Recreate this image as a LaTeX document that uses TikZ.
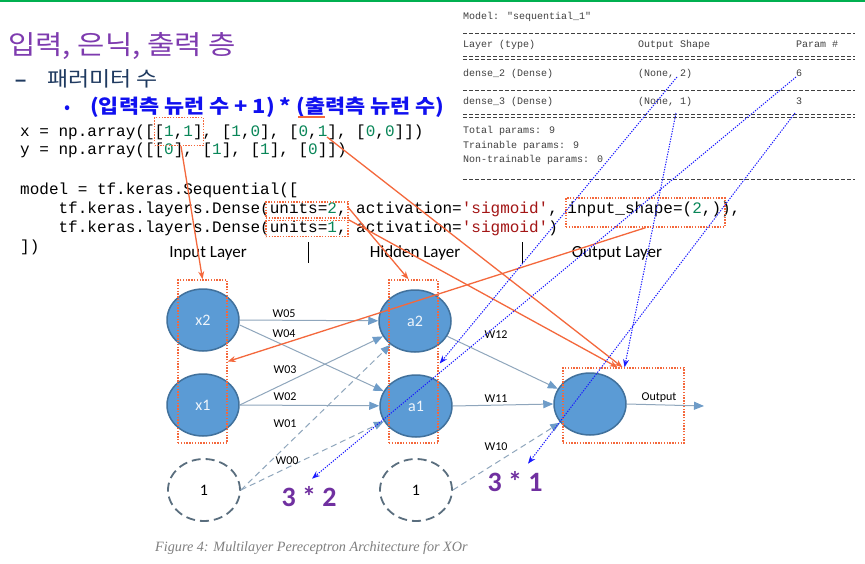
\documentclass[tikz,border=0pt]{standalone}
\usepackage{fontspec}
\usetikzlibrary{arrows.meta,calc,shapes.geometric}
\newfontfamily\krfont{Noto Sans CJK KR}
\newfontfamily\krwide{Noto Sans CJK KR}[FakeStretch=1.12]
\newfontfamily\codefont{Liberation Mono}[Ligatures=TeXOff]
\newfontfamily\calfont{Carlito}
\newfontfamily\capfont{Liberation Serif}
\newfontfamily\dashfont{Liberation Sans}
\definecolor{titlepurple}{HTML}{7E3BAF}
\definecolor{subnavy}{HTML}{1F3A60}
\definecolor{bulletblue}{HTML}{1010F0}
\definecolor{orangeR}{HTML}{F4683C}
\definecolor{dotblue}{HTML}{1A1AFF}
\definecolor{nodefill}{HTML}{5B9BD5}
\definecolor{nodedraw}{HTML}{41719C}
\definecolor{edgegray}{HTML}{8FA6BC}
\definecolor{arrowblue}{HTML}{6E9CC8}
\definecolor{biasdraw}{HTML}{5A6E7E}
\definecolor{codenum}{HTML}{098658}
\definecolor{codestr}{HTML}{A31515}
\definecolor{numpurple}{HTML}{7030A0}
\definecolor{capgray}{HTML}{7F7F7F}
\definecolor{sumgray}{HTML}{404040}
\definecolor{topgreen}{HTML}{00B050}
\newcommand{\cnum}[1]{\textcolor{codenum}{#1}}
\newcommand{\cstr}[1]{\textcolor{codestr}{#1}}
\tikzset{
  codeline/.style={anchor=base west,inner sep=0pt,font=\codefont\fontsize{16}{19}\selectfont},
  sumtext/.style={anchor=base west,inner sep=0pt,text=sumgray,font=\codefont\fontsize{10}{12}\selectfont},
  sumrule/.style={sumgray,line width=0.6pt,dash pattern=on 4pt off 2pt},
  neuron/.style={ellipse,draw=nodedraw,fill=nodefill,line width=1.5pt,minimum width=72pt,minimum height=62pt,inner sep=0pt,text=white!90!nodefill,font=\calfont\fontsize{16}{18}\selectfont},
  biasnode/.style={ellipse,draw=biasdraw,line width=1.8pt,dash pattern=on 9pt off 5pt,minimum width=72pt,minimum height=62pt,inner sep=0pt,font=\calfont\fontsize{16}{18}\selectfont},
  obox/.style={draw=orangeR,line width=1.4pt,dash pattern=on 1.4pt off 1.4pt,inner sep=0pt},
  edge/.style={edgegray,line width=1pt,-{Triangle[length=10pt,width=8pt,color=arrowblue]}},
  dedge/.style={edge,dash pattern=on 6pt off 4pt},
  wlabel/.style={inner sep=0pt,font=\calfont\fontsize{12}{14}\selectfont},
  orarrow/.style={orangeR,line width=1.3pt,-{Stealth[length=8pt,width=6pt]}},
  bluearrow/.style={dotblue,line width=1pt,dash pattern=on 1.3pt off 1.3pt,-{Stealth[length=8pt,width=6pt]}},
  collabel/.style={inner sep=0pt,font=\calfont\fontsize{17}{20}\selectfont},
  bignum/.style={inner sep=2pt,text=numpurple,font=\calfont\bfseries\fontsize{28}{30}\selectfont}
}
\begin{document}
\begin{tikzpicture}[x=1pt,y=-1pt]
\useasboundingbox (0,0) rectangle (865,563);
\fill[white] (0,0) rectangle (865,563);
\draw[topgreen,line width=2pt] (0,1) -- (865,1);

% headings
\node[anchor=base west,inner sep=0pt,text=titlepurple] (title) at (8,54) {\krwide\fontsize{26.5}{30}\selectfont 입력, 은닉, 출력 층};
\node[anchor=base west,inner sep=0pt,text=subnavy] (dash) at (15,86) {\dashfont\bfseries\fontsize{20}{22}\selectfont –};
\node[anchor=base west,inner sep=0pt,text=subnavy] (sub) at (47,86) {\krwide\fontsize{20.5}{24}\selectfont 패러미터 수};
\node[anchor=base west,inner sep=0pt,text=bulletblue] (bul) at (64,113) {\krfont\fontsize{18}{20}\selectfont •};
\node[anchor=base west,inner sep=0pt,text=bulletblue] (formula) at (90,113) {\krwide\bfseries\fontsize{19.5}{24}\selectfont (입력측 뉴런 수 + 1) * (출력측 뉴런 수)};
\draw[orangeR,line width=1.6pt] (298,117) -- (325,117);

% code
\node[codeline] (cx) at (20,136) {x = np.array([[\cnum{1},\cnum{1}], [\cnum{1},\cnum{0}], [\cnum{0},\cnum{1}], [\cnum{0},\cnum{0}]])};
\node[codeline] (cy) at (20,154.5) {y = np.array([[\cnum{0}], [\cnum{1}], [\cnum{1}], [\cnum{0}]])};
\node[codeline] (cm) at (20,194) {model = tf.keras.Sequential([};
\node[codeline] (cl1) at (58.4,213) {tf.keras.layers.Dense(units=\cnum{2}, activation=\cstr{'sigmoid'}, input\_shape=(\cnum{2},)),};
\node[codeline] (cl2) at (58.4,232) {tf.keras.layers.Dense(units=\cnum{1}, activation=\cstr{'sigmoid'})};
\node[codeline] (ce) at (20,251) {])};

% model summary
\node[sumtext] (s0) at (463,19) {Model: "sequential\_1"};
\draw[sumrule] (463,33) -- (855,33);
\node[sumtext] (s1a) at (463,47) {Layer (type)};
\node[sumtext] (s1b) at (638,47) {Output Shape};
\node[sumtext] (s1c) at (796,47) {Param \#};
\draw[sumrule] (463,56) -- (855,56);
\draw[sumrule] (463,59) -- (855,59);
\node[sumtext] (s2a) at (463,76) {dense\_2 (Dense)};
\node[sumtext] (s2b) at (638,76) {(None, 2)};
\node[sumtext] (s2c) at (796,76) {6};
\draw[sumrule] (463,90) -- (855,90);
\node[sumtext] (s3a) at (463,104) {dense\_3 (Dense)};
\node[sumtext] (s3b) at (638,104) {(None, 1)};
\node[sumtext] (s3c) at (796,104) {3};
\draw[sumrule] (463,114) -- (855,114);
\draw[sumrule] (463,117) -- (855,117);
\node[sumtext] (s4) at (463,133) {Total params: 9};
\node[sumtext] (s5) at (463,148) {Trainable params: 9};
\node[sumtext] (s6) at (463,162) {Non-trainable params: 0};
\draw[sumrule] (463,179) -- (855,179);

% column labels
\node[collabel] (lin) at (208,253) {Input Layer};
\node[collabel] (lhid) at (415,253) {Hidden Layer};
\node[collabel] (lout) at (617,253) {Output Layer};
\draw[black,line width=1pt] (308,242) -- (308,263);
\draw[black,line width=1pt] (522,242) -- (522,263);

% neurons
\node[neuron] (x2) at (203,320) {x2};
\node[neuron] (x1) at (203,405) {x1};
\node[neuron] (a2) at (415,321) {a2};
\node[neuron] (a1) at (416,406) {a1};
\node[neuron] (out) at (590,404) {};
\node[biasnode] (b1) at (204,490) {1};
\node[biasnode] (b2) at (416,490) {1};
\coordinate (outend) at (704,406);

% edges
\draw[edge] (x2.east) -- (a2);
\draw[edge] ([yshift=-5pt]x2.east) -- (a1);
\draw[edge] (x1.east) -- (a2);
\draw[edge] (x1.east) -- (a1);
\draw[dedge] (b1.east) -- (a2);
\draw[dedge] (b1.east) -- (a1);
\draw[edge] (a2) -- (out);
\draw[edge] (a1.east) -- (out.west);
\draw[dedge] (b2.east) -- (out);
\draw[edge] (out.east) -- (outend);

\node[wlabel] (w05) at (284,314) {W05};
\node[wlabel] (w04) at (284,334) {W04};
\node[wlabel] (w03) at (285,370) {W03};
\node[wlabel] (w02) at (285,397) {W02};
\node[wlabel] (w01) at (285,424) {W01};
\node[wlabel] (w00) at (287,461) {W00};
\node[wlabel] (w12) at (496,335) {W12};
\node[wlabel] (w11) at (496,399) {W11};
\node[wlabel] (w10) at (496,447) {W10};
\node[wlabel] (wout) at (659,398) {Output};

% orange dotted boxes
\node[obox,minimum width=49pt,minimum height=28pt] (bx11) at (179,131.5) {};
\node[obox,minimum width=82pt,minimum height=16pt] (bu2) at (307,210) {};
\node[obox,minimum width=82pt,minimum height=16pt] (bu1) at (307,228.5) {};
\node[obox,minimum width=159pt,minimum height=29pt] (bis) at (645.5,212.5) {};
\node[obox,minimum width=49pt,minimum height=163pt] (inbox) at (202.5,361.5) {};
\node[obox,minimum width=49pt,minimum height=163pt] (hidbox) at (413.5,361.5) {};
\node[obox,minimum width=121pt,minimum height=75pt] (outbox) at (623.5,405.5) {};
\coordinate (c01) at (327,137);

% orange arrows
\draw[orarrow] ([xshift=2pt]bx11.south) -- ([xshift=0pt]inbox.north);
\draw[orarrow] (c01) -- ([xshift=-1pt]outbox.north);
\draw[orarrow] ([yshift=2pt]bu2.east) -- ([xshift=-5pt]hidbox.north);
\draw[orarrow] (bu1.north east) -- ([xshift=-6pt]outbox.north);
\draw[orarrow] (bis.south) -- (inbox.east);

% purple counts
\node[bignum] (l32) at (309,497) {3 * 2};
\node[bignum] (l31) at (515,482) {3 * 1};

% blue dotted arrows
\coordinate (n2) at (677,77);
\coordinate (p6) at (796,77);
\coordinate (n1) at (676,113);
\coordinate (p3) at (795,113);
\draw[bluearrow] (n2) -- ([yshift=-2pt,xshift=1pt]hidbox.east);
\draw[bluearrow] (p6) -- ([shift={(3pt,6pt)}]l32.north);
\draw[bluearrow] (n1) -- ([xshift=1pt]outbox.north);
\draw[bluearrow] (p3) -- ([shift={(13pt,6pt)}]l31.north);

% caption
\node[anchor=base west,inner sep=0pt,text=capgray] (cap) at (155,551) {\capfont\itshape\fontsize{14.2}{16}\selectfont Figure 4: Multilayer Pereceptron Architecture for XOr};
\end{tikzpicture}
\end{document}
